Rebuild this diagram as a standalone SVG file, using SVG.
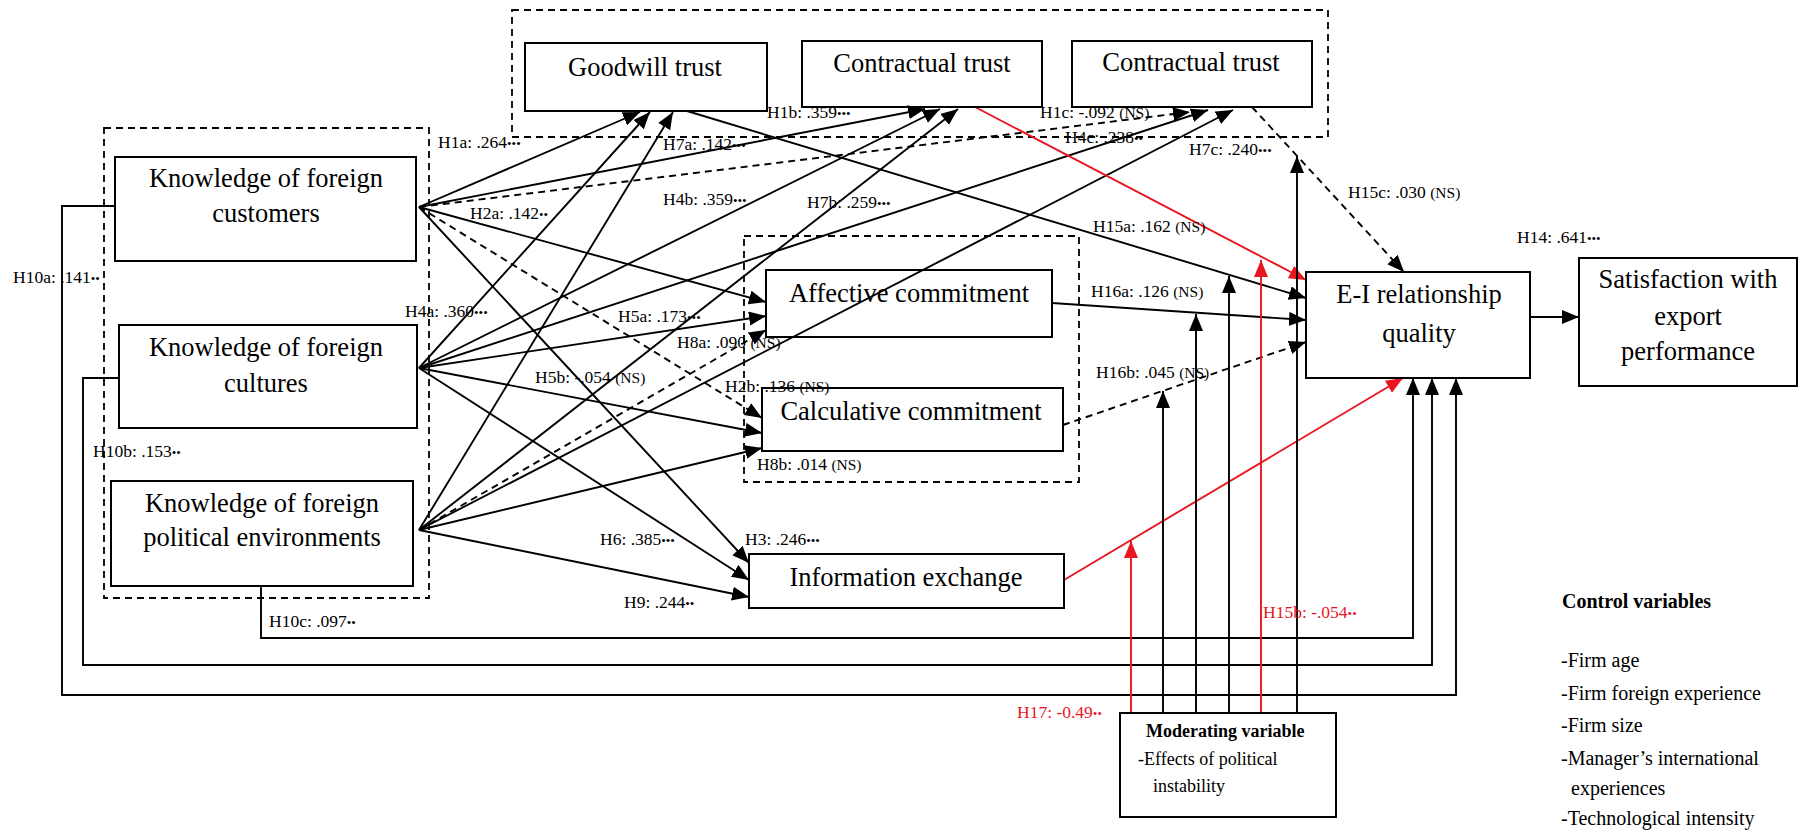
<svg xmlns="http://www.w3.org/2000/svg" width="1800" height="832" viewBox="0 0 1800 832">
<defs>
<marker id="ah" markerUnits="userSpaceOnUse" markerWidth="18" markerHeight="15" refX="17" refY="7" orient="auto"><path d="M0,0 L17,7 L0,14 z" fill="#000"/></marker>
<marker id="ahr" markerUnits="userSpaceOnUse" markerWidth="18" markerHeight="15" refX="17" refY="7" orient="auto"><path d="M0,0 L17,7 L0,14 z" fill="#e8161f"/></marker>
<style>
.box{fill:none;stroke:#000;stroke-width:2}
.grp{fill:none;stroke:#000;stroke-width:1.8;stroke-dasharray:7 5}
.nt{font-family:"Liberation Serif",serif;font-size:26.5px;text-anchor:middle;fill:#000}
.c{fill:none;stroke:#000;stroke-width:1.9}
.cd{fill:none;stroke:#000;stroke-width:1.9;stroke-dasharray:7 5}
.cr{fill:none;stroke:#e8161f;stroke-width:1.9}
.lbl{font-family:"Liberation Serif",serif;font-size:17.5px;fill:#000}
.red{fill:#e8161f}
.b{font-size:13px}
.ns{font-size:15.5px}
.side{font-family:"Liberation Serif",serif;font-size:20px;fill:#000}
.mod{font-family:"Liberation Serif",serif;font-size:18px;fill:#000}
</style>
</defs>
<rect width="1800" height="832" fill="#fff"/>

<g id="groups">
<rect class="grp" x="512" y="10" width="816" height="127"/>
<rect class="grp" x="104" y="128" width="325" height="470"/>
<rect class="grp" x="744" y="236" width="335" height="246"/>
</g>

<g id="connectors">
<!-- from KFC -->
<line class="c" x1="419" y1="207" x2="640" y2="112" marker-end="url(#ah)"/>
<line class="c" x1="419" y1="207" x2="925" y2="109" marker-end="url(#ah)"/>
<line class="cd" x1="419" y1="207" x2="1190" y2="112" marker-end="url(#ah)"/>
<line class="c" x1="419" y1="207" x2="766" y2="302" marker-end="url(#ah)"/>
<line class="cd" x1="419" y1="207" x2="762" y2="418" marker-end="url(#ah)"/>
<line class="c" x1="419" y1="207" x2="749" y2="563" marker-end="url(#ah)"/>
<!-- from KFCul -->
<line class="c" x1="419" y1="368" x2="650" y2="112" marker-end="url(#ah)"/>
<line class="c" x1="419" y1="368" x2="940" y2="109" marker-end="url(#ah)"/>
<line class="c" x1="419" y1="368" x2="1208" y2="110" marker-end="url(#ah)"/>
<line class="c" x1="419" y1="368" x2="766" y2="316" marker-end="url(#ah)"/>
<line class="c" x1="419" y1="368" x2="762" y2="433" marker-end="url(#ah)"/>
<line class="c" x1="419" y1="368" x2="749" y2="580" marker-end="url(#ah)"/>
<!-- from KFP -->
<line class="c" x1="419" y1="530" x2="673" y2="112" marker-end="url(#ah)"/>
<line class="c" x1="419" y1="530" x2="958" y2="109" marker-end="url(#ah)"/>
<line class="c" x1="419" y1="530" x2="1233" y2="110" marker-end="url(#ah)"/>
<line class="cd" x1="419" y1="530" x2="766" y2="330" marker-end="url(#ah)"/>
<line class="c" x1="419" y1="530" x2="762" y2="448" marker-end="url(#ah)"/>
<line class="c" x1="419" y1="530" x2="749" y2="597" marker-end="url(#ah)"/>
<!-- to E-I -->
<line class="c" x1="687" y1="111" x2="1306" y2="298" marker-end="url(#ah)"/>
<line class="cr" x1="975" y1="107" x2="1306" y2="280" marker-end="url(#ahr)"/>
<line class="cd" x1="1252" y1="107" x2="1404" y2="272" marker-end="url(#ah)"/>
<line class="c" x1="1052" y1="303" x2="1306" y2="320" marker-end="url(#ah)"/>
<line class="cd" x1="1063" y1="425" x2="1306" y2="342" marker-end="url(#ah)"/>
<line class="cr" x1="1064" y1="580" x2="1403" y2="378" marker-end="url(#ahr)"/>
<line class="c" x1="1530" y1="317" x2="1579" y2="317" marker-end="url(#ah)"/>
<!-- control loops -->
<polyline class="c" points="115,206 62,206 62,695 1456,695 1456,378" marker-end="url(#ah)"/>
<polyline class="c" points="119,378 83,378 83,665 1432,665 1432,378" marker-end="url(#ah)"/>
<polyline class="c" points="261,586 261,638 1413,638 1413,378" marker-end="url(#ah)"/>
<!-- moderating -->
<line class="cr" x1="1131" y1="713" x2="1131" y2="541" marker-end="url(#ahr)"/>
<line class="c" x1="1163" y1="713" x2="1163" y2="391" marker-end="url(#ah)"/>
<line class="c" x1="1196" y1="713" x2="1196" y2="314" marker-end="url(#ah)"/>
<line class="c" x1="1229" y1="713" x2="1229" y2="276" marker-end="url(#ah)"/>
<line class="cr" x1="1261" y1="713" x2="1261" y2="260" marker-end="url(#ahr)"/>
<line class="c" x1="1297" y1="713" x2="1297" y2="156" marker-end="url(#ah)"/>
</g>

<g id="n-kfc"><rect class="box" x="115" y="157" width="301" height="104"/><text class="nt" x="266" y="187">Knowledge of foreign</text><text class="nt" x="266" y="222">customers</text></g>
<g id="n-kfcul"><rect class="box" x="119" y="325" width="298" height="103"/><text class="nt" x="266" y="356">Knowledge of foreign</text><text class="nt" x="266" y="392">cultures</text></g>
<g id="n-kfp"><rect class="box" x="111" y="481" width="302" height="105"/><text class="nt" x="262" y="512">Knowledge of foreign</text><text class="nt" x="262" y="546">political environments</text></g>
<g id="n-goodwill"><rect class="box" x="525" y="43" width="242" height="68"/><text class="nt" x="645" y="76">Goodwill trust</text></g>
<g id="n-contract1"><rect class="box" x="802" y="41" width="240" height="66"/><text class="nt" x="922" y="72">Contractual trust</text></g>
<g id="n-contract2"><rect class="box" x="1072" y="41" width="240" height="66"/><text class="nt" x="1191" y="71">Contractual trust</text></g>
<g id="n-affective"><rect class="box" x="766" y="270" width="286" height="67"/><text class="nt" x="909" y="302">Affective commitment</text></g>
<g id="n-calculative"><rect class="box" x="762" y="388" width="301" height="63"/><text class="nt" x="911" y="420">Calculative commitment</text></g>
<g id="n-info"><rect class="box" x="749" y="554" width="315" height="54"/><text class="nt" x="906" y="586">Information exchange</text></g>
<g id="n-ei"><rect class="box" x="1306" y="272" width="224" height="106"/><text class="nt" x="1419" y="303">E-I relationship</text><text class="nt" x="1419" y="342">quality</text></g>
<g id="n-satisfaction"><rect class="box" x="1579" y="258" width="218" height="128"/><text class="nt" x="1688" y="288">Satisfaction with</text><text class="nt" x="1688" y="325">export</text><text class="nt" x="1688" y="360">performance</text></g>
<g id="n-moderating"><rect class="box" x="1120" y="713" width="216" height="104"/><text class="mod" x="1146" y="737" font-weight="bold">Moderating variable</text><text class="mod" x="1138" y="765">-Effects of political</text><text class="mod" x="1153" y="792">instability</text></g>
<g id="n-control"><text class="side" x="1562" y="608" font-weight="bold">Control variables</text><text class="side" x="1561" y="667">-Firm age</text><text class="side" x="1561" y="700">-Firm foreign experience</text><text class="side" x="1561" y="732">-Firm size</text><text class="side" x="1561" y="765">-Manager’s international</text><text class="side" x="1571" y="795">experiences</text><text class="side" x="1561" y="825">-Technological intensity</text></g>

<g id="labels">
<text class="lbl" x="438" y="148">H1a: .264<tspan class="b">•••</tspan></text>
<text class="lbl" x="663" y="150">H7a: .142<tspan class="b">•••</tspan></text>
<text class="lbl" x="767" y="118">H1b: .359<tspan class="b">•••</tspan></text>
<text class="lbl" x="1040" y="118">H1c: -.092 <tspan class="ns">(NS)</tspan></text>
<text class="lbl" x="1065" y="143">H4c: .238<tspan class="b">••</tspan></text>
<text class="lbl" x="1189" y="155">H7c: .240<tspan class="b">•••</tspan></text>
<text class="lbl" x="470" y="219">H2a: .142<tspan class="b">••</tspan></text>
<text class="lbl" x="663" y="205">H4b: .359<tspan class="b">•••</tspan></text>
<text class="lbl" x="807" y="208">H7b: .259<tspan class="b">•••</tspan></text>
<text class="lbl" x="1093" y="232">H15a: .162 <tspan class="ns">(NS)</tspan></text>
<text class="lbl" x="1348" y="198">H15c: .030 <tspan class="ns">(NS)</tspan></text>
<text class="lbl" x="1517" y="243">H14: .641<tspan class="b">•••</tspan></text>
<text class="lbl" x="13" y="283">H10a: .141<tspan class="b">••</tspan></text>
<text class="lbl" x="405" y="317">H4a: .360<tspan class="b">•••</tspan></text>
<text class="lbl" x="618" y="322">H5a: .173<tspan class="b">•••</tspan></text>
<text class="lbl" x="1091" y="297">H16a: .126 <tspan class="ns">(NS)</tspan></text>
<text class="lbl" x="677" y="348">H8a: .090 <tspan class="ns">(NS)</tspan></text>
<text class="lbl" x="535" y="383">H5b: -.054 <tspan class="ns">(NS)</tspan></text>
<text class="lbl" x="725" y="392">H2b: .136 <tspan class="ns">(NS)</tspan></text>
<text class="lbl" x="1096" y="378">H16b: .045 <tspan class="ns">(NS)</tspan></text>
<text class="lbl" x="93" y="457">H10b: .153<tspan class="b">••</tspan></text>
<text class="lbl" x="757" y="470">H8b: .014 <tspan class="ns">(NS)</tspan></text>
<text class="lbl" x="600" y="545">H6: .385<tspan class="b">•••</tspan></text>
<text class="lbl" x="745" y="545">H3: .246<tspan class="b">•••</tspan></text>
<text class="lbl" x="624" y="608">H9: .244<tspan class="b">••</tspan></text>
<text class="lbl" x="269" y="627">H10c: .097<tspan class="b">••</tspan></text>
<text class="lbl red" x="1263" y="618">H15b: -.054<tspan class="b">••</tspan></text>
<text class="lbl red" x="1017" y="718">H17: -0.49<tspan class="b">••</tspan></text>
</g>
</svg>
